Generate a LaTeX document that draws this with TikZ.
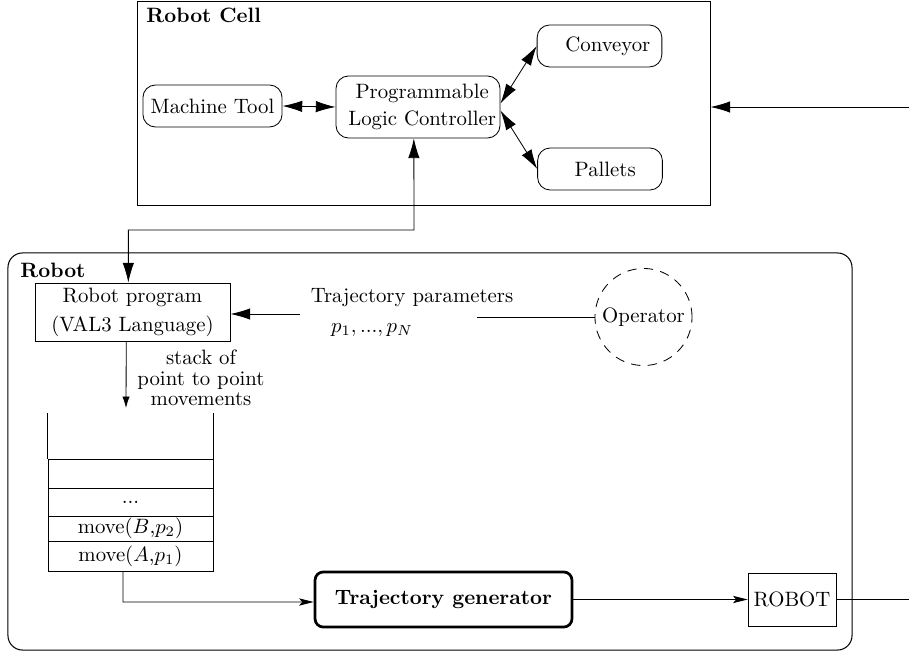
\documentclass[tikz,border=0pt]{standalone}
\usetikzlibrary{arrows.meta,positioning,calc}
\begin{document}
\begin{tikzpicture}[x=0.481pt,y=-0.481pt,
  big/.style={-{Latex[length=9.5pt,width=5.5pt]}},
  bigboth/.style={{Latex[length=9.5pt,width=5.5pt]}-{Latex[length=9.5pt,width=5.5pt]}},
  small/.style={-{Stealth[length=7pt,width=3.5pt,inset=1.5pt]}},
  rbox/.style={draw,rounded corners=6pt,inner sep=0pt,align=center},
  cellbox/.style={draw,inner sep=0pt,minimum width=79.4pt},
  lbl/.style={inner sep=0pt,anchor=west,font=\bfseries}]
\useasboundingbox (0,0) rectangle (909,653);
% Robot cell frame
\node[draw,line width=0.45pt,minimum width=275.6pt,minimum height=98.1pt,inner sep=0pt] (cell) at (423.5,103) {};
\node[lbl] (celllbl) at (146,15) {Robot Cell};
\node[rbox,minimum width=66.9pt,minimum height=20.2pt] (mt) at (212.5,106) {Machine Tool};
\node[rbox,minimum width=78.9pt,minimum height=29.8pt] (plc) at (418,107) {\hspace*{4pt}Programmable\\[1pt]\hspace*{4pt}Logic Controller};
\node[rbox,minimum width=60pt,minimum height=20.2pt] (conv) at (599.5,46) {\hspace*{8pt}Conveyor};
\node[rbox,minimum width=60pt,minimum height=20.2pt] (pal) at (600,169) {\hspace*{5pt}Pallets};
\draw[bigboth] (mt.east) -- (plc.west);
\draw[bigboth] ([yshift=1.7pt]plc.east) -- (conv.west);
\draw[bigboth] ([yshift=-1.7pt]plc.east) -- (pal.west);
\coordinate (rin) at (909,107);
\draw[big] (rin) -- (rin -| cell.east);
% Robot frame
\node[draw,line width=0.5pt,rounded corners=7pt,minimum width=406pt,minimum height=191pt,inner sep=0pt] (robot) at (430,451.5) {};
\node[lbl] (robotlbl) at (20,270) {Robot};
\node[draw,inner sep=0pt,minimum width=93.8pt,minimum height=27.9pt,align=center] (rp) at (132.5,312) {Robot program\\[2pt](VAL3 Language)};
\coordinate (cross) at (414,230);
\draw[bigboth] ([xshift=-2pt]plc.south) -- (cross) -| ([xshift=-2pt]rp.north);
% trajectory parameters
\node[inner sep=0pt] (tp) at (412,298) {Trajectory parameters};
\node[inner sep=0pt] (pn) at (372,330) {$p_1, ..., p_N$};
\node[draw,circle,dash pattern=on 4.5pt off 3.5pt,minimum size=46.7pt,inner sep=0pt] (op) at (643.5,317) {Operator};
\coordinate (tpL) at (300,314);
\coordinate (tpR) at (477,317);
\draw[big] (tpL) -- (tpL -| rp.east);
\draw (tpR) -- (op.west);
% stack
\coordinate (stop) at (126,408);
\draw[-{Latex[length=5.5pt,width=3.5pt]}] ([xshift=-3pt]rp.south) -- (stop);
\node[inner sep=0pt,align=center,font=\fontsize{10pt}{9.9pt}\selectfont] (stk) at (201,378) {stack of\\point to point\\movements};
\node[cellbox,minimum height=13.9pt] (c1) at (130.5,473.5) {};
\node[cellbox,minimum height=13.5pt] (c2) at (130.5,502) {...};
\node[cellbox,minimum height=12pt] (c3) at (130.5,528.5) {move($B$,$p_2$)};
\node[cellbox,minimum height=14.4pt] (c4) at (130.5,556) {move($A$,$p_1$)};
\draw (c1.north west) -- ++(0,-46);
\draw (c1.north east) -- ++(0,-46);
% trajectory generator and robot
\node[draw,line width=1.3pt,rounded corners=4pt,minimum width=123.6pt,minimum height=26.5pt,inner sep=0pt,font=\bfseries] (tg) at (443.5,599.5) {Trajectory generator};
\node[draw,inner sep=0pt,minimum width=42.3pt,minimum height=25.5pt] (rb) at (792,599.5) {ROBOT};
\coordinate (turn) at (123,602);
\draw[small] ([xshift=-3.6pt]c4.south) -- (turn) -- (turn -| tg.west);
\draw[small] (tg.east) -- (rb.west);
\coordinate (rout) at (909,599.5);
\draw (rb.east) -- (rout);
\end{tikzpicture}
\end{document}
